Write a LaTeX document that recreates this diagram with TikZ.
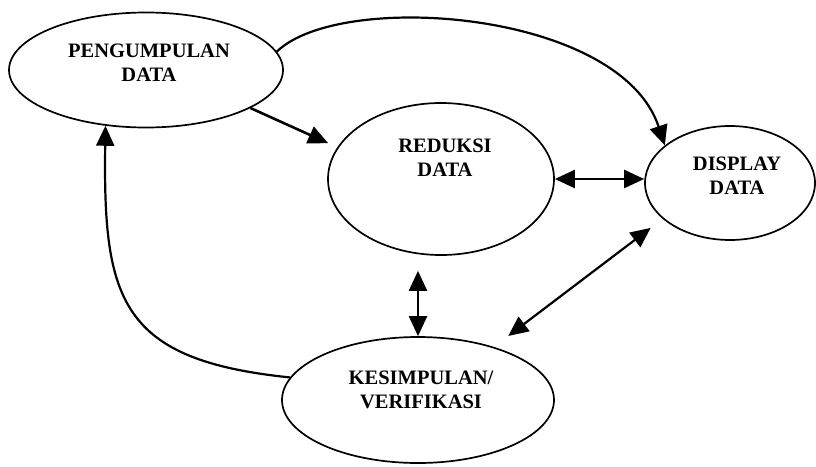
\documentclass[tikz,border=0pt]{standalone}
\usepackage{fontspec}
\setmainfont{Liberation Serif}
\usetikzlibrary{arrows.meta,shapes.geometric}
\begin{document}
\begin{tikzpicture}[x=1pt,y=-1pt,
  ell/.style={draw,ellipse,line width=1.7pt,inner sep=0pt},
  lbl/.style={font=\bfseries\fontsize{20.5}{24}\selectfont,align=center,inner sep=0pt},
  con/.style={line width=2.2pt,-{Triangle[length=20pt,width=18pt]}},
  bicon/.style={line width=2.2pt,{Triangle[length=20pt,width=18pt]}-{Triangle[length=20pt,width=18pt]}}]
\useasboundingbox (0,0) rectangle (816,466);
% ellipses
\node[ell,minimum width=274pt,minimum height=115pt] (pd) at (146,70) {};
\node[ell,minimum width=226pt,minimum height=152pt] (rd) at (441,179) {};
\node[ell,minimum width=170pt,minimum height=114pt] (ds) at (730,183) {};
\node[ell,minimum width=272pt,minimum height=126pt] (ks) at (418,400) {};
% labels
\node[lbl] (pdt) at (149,63) {PENGUMPULAN\\DATA};
\node[lbl] (rdt) at (445,158) {REDUKSI\\DATA};
\node[lbl] (dst) at (737,176) {DISPLAY\\DATA};
\node[lbl] (kst) at (421,390) {KESIMPULAN/\\VERIFIKASI};
% connectors
\draw[con,line width=2.6pt,shorten >=10pt] (pd.-20) -- (rd.163);
\draw[con] (pd.8) .. controls (340,-10) and (620,10) .. (ds.150);
\draw[bicon] (rd.east) -- (rd.east -| ds.west);
\draw[bicon,shorten <=15pt] (ks.north |- rd.south) -- (ks.north);
\draw[bicon,shorten <=18pt,shorten >=15pt] (ks.35) -- (ds.208);
\draw[con] (ks.170) .. controls (120,360) and (103,300) .. (pd.-126);
\end{tikzpicture}
\end{document}
